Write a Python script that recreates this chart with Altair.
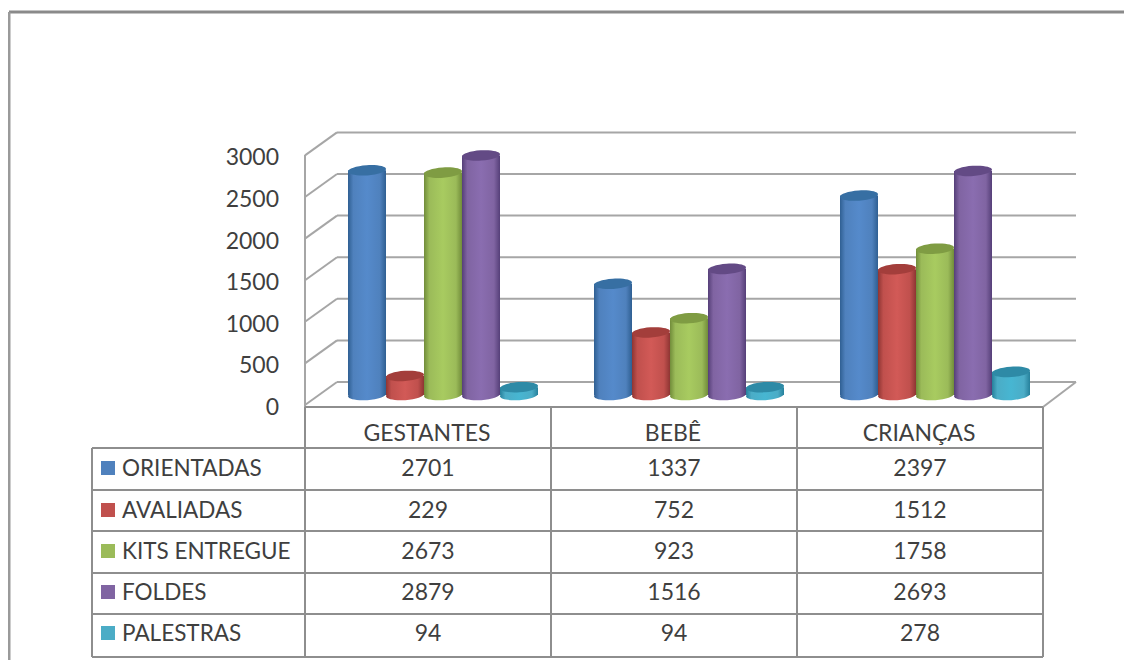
import altair as alt
import pandas as pd

grupos = ["GESTANTES", "BEBÊ", "CRIANÇAS"]
series = ["ORIENTADAS", "AVALIADAS", "KITS ENTREGUE", "FOLDES", "PALESTRAS"]
orientadas = [2701, 1337, 2397]
avaliadas = [229, 752, 1512]
kits = [2673, 923, 1758]
foldes = [2879, 1516, 2693]
palestras = [94, 94, 278]
valores = [orientadas, avaliadas, kits, foldes, palestras]
ticks = [0, 500, 1000, 1500, 2000, 2500, 3000]

cor = ["#4F81BD", "#C0504D", "#9BBB59", "#8064A2", "#4BACC6"]
cor_clara = ["#558ACB", "#D25A57", "#A8CB60", "#8A6DB0", "#47B6D2"]
cor_escura = ["#2F5F92", "#8E3533", "#718C3A", "#553F78", "#26809B"]
cor_topo = ["#376FA3", "#A33E3B", "#7F9C43", "#634A85", "#2E8AA6"]

W, H = 1116, 652
M = 8
PX_POR_UNID = 41.6 / 500
Y0 = 395
FONTE = "Lato"
TXT = "#3F3F3F"
LINHA = "#8E8E8E"
GRADE = "#A6A6A6"

xs = alt.Scale(domain=grupos, range=[348 - M, 1030 - M], paddingInner=56 / 246, paddingOuter=0)
ys = alt.Scale(domain=[(Y0 - (H + M)) / PX_POR_UNID, (Y0 - M) / PX_POR_UNID], range=[H, 0], nice=False, zero=False)
off = alt.XOffset("serie:N", scale=alt.Scale(domain=series))
X = alt.X("grupo:N", scale=xs, axis=None)
Y = alt.Y("valor:Q", scale=ys, axis=None)
ELIPSE = "M -1 0.07 A 1 0.27 -4 1 1 1 -0.07 A 1 0.27 -4 1 1 -1 0.07 Z"


def seg(x1, y1, x2, y2, color=LINHA, size=2):
    return alt.Chart(pd.DataFrame({"a": [0]})).mark_rule(color=color, size=size).encode(
        x=alt.value(x1 - M), x2=alt.value(x2 - M), y=alt.value(y1 - M), y2=alt.value(y2 - M)
    )


def grad(i):
    stops = [(0, cor_escura[i]), (0.14, cor[i]), (0.5, cor_clara[i]), (0.84, cor[i]), (1, cor_escura[i])]
    return alt.LinearGradient(
        gradient="linear", x1=0, x2=1, y1=0, y2=0,
        stops=[alt.GradientStop(offset=o, color=c) for o, c in stops],
    )


camadas = []

# quadro
camadas.append(seg(9, 12, 1132, 12, "#8A8A8A", 3))
camadas.append(seg(9, 12, 9, 665, "#9A9A9A", 3))

# paredes
df_t = pd.DataFrame({"v": ticks})
camadas.append(alt.Chart(df_t).mark_rule(color=GRADE, size=2, yOffset=-13).encode(
    x=alt.value(337 - M), x2=alt.value(1076 - M), y=alt.Y("v:Q", scale=ys, axis=None)))
camadas.append(alt.Chart(df_t).mark_rule(color=GRADE, size=2, yOffset=10, y2Offset=-13).encode(
    x=alt.value(305 - M), x2=alt.value(337 - M), y=alt.Y("v:Q", scale=ys, axis=None), y2=alt.Y2("v:Q")))
camadas.append(seg(305, 155, 305, 407, GRADE))
camadas.append(seg(1043, 407, 1076, 382, GRADE))

# rótulos do eixo
camadas.append(alt.Chart(df_t).mark_text(align="right", baseline="middle", dy=13, font=FONTE, fontSize=23, color=TXT).encode(
    x=alt.value(279 - M), y=alt.Y("v:Q", scale=ys, axis=None), text=alt.Text("v:Q", format="d")))

# cilindros
for i, s in enumerate(series):
    d = pd.DataFrame({"grupo": grupos, "serie": s, "valor": valores[i], "zero": [0, 0, 0]})
    camadas.append(alt.Chart(d).mark_point(shape=ELIPSE, size=38 ** 2, filled=True, fill=grad(i), stroke=None, opacity=1).encode(
        x=X, xOffset=off, y=alt.Y("zero:Q", scale=ys, axis=None)))
    camadas.append(alt.Chart(d).mark_bar(color=grad(i)).encode(
        x=X, xOffset=off, y=Y, y2=alt.Y2("zero:Q")))
    camadas.append(alt.Chart(d).mark_point(shape=ELIPSE, size=38 ** 2, filled=True, fill=cor_topo[i], stroke=None, opacity=1).encode(
        x=X, xOffset=off, y=Y))

# tabela
for y in [407, 448, 490, 531, 573, 614, 657]:
    camadas.append(seg(305 if y == 407 else 92, y, 1043, y))
for x in [305, 551, 797, 1043]:
    camadas.append(seg(x, 407, x, 657))
camadas.append(seg(92, 448, 92, 657))

d_h = pd.DataFrame({"grupo": grupos})
camadas.append(alt.Chart(d_h).mark_text(dx=-16, font=FONTE, fontSize=23, color=TXT, baseline="middle").encode(
    x=X, y=alt.value(434 - M), text="grupo:N"))

linhas_y = [469, 511, 552, 593, 634]
for i, s in enumerate(series):
    yr = linhas_y[i]
    d = pd.DataFrame({"grupo": grupos, "serie": s, "valor": valores[i]})
    camadas.append(alt.Chart(d).mark_text(dx=-15, font=FONTE, fontSize=23, color=TXT, baseline="middle").encode(
        x=X, y=alt.value(yr - M), text=alt.Text("valor:Q", format="d")))
    camadas.append(alt.Chart(d.head(1)).mark_square(size=196, color=cor[i], opacity=1).encode(
        x=alt.value(108 - M), y=alt.value(yr - 1 - M)))
    camadas.append(alt.Chart(d.head(1)).mark_text(align="left", font=FONTE, fontSize=22.5, color=TXT, baseline="middle").encode(
        x=alt.value(122 - M), y=alt.value(yr - M), text="serie:N"))

chart = alt.layer(*camadas).properties(
    width=W, height=H, padding=0, background="white",
    autosize=alt.AutoSizeParams(type="none"),
).configure_view(strokeWidth=0)

chart.save("out.html", embed_options={"renderer": "svg", "actions": False})
